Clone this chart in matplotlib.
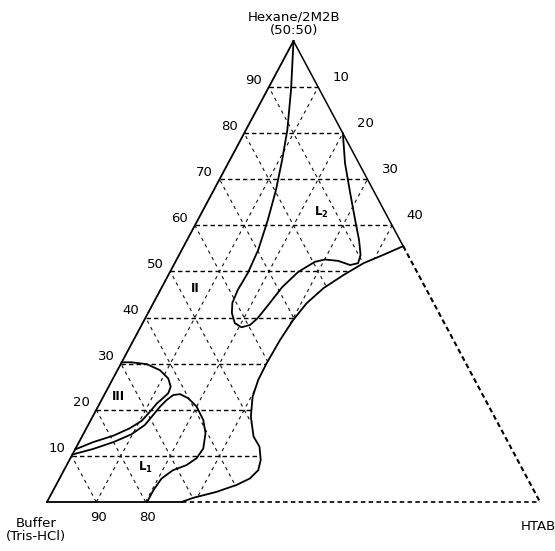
import numpy as np
import matplotlib
matplotlib.use('Agg')
import matplotlib.pyplot as plt
from matplotlib.patches import Polygon

plt.rcParams['font.family'] = ['DejaVu Sans']
plt.rcParams['lines.scale_dashes'] = False

# curves, as (HTAB %, Hexane/2M2B %)
# L2 / II boundary: from the hexane corner, loop, back to the right side
l2_htab = [0.0, 4.8, 8.4, 10.6, 12.6, 14.2, 15.5, 15.9, 15.7, 16.0, 17.0, 18.7, 20.5, 22.0,
           22.8, 23.5, 24.4, 26.0, 28.3, 30.1, 32.9, 35.8, 37.2, 36.8, 34.9, 31.9, 28.0,
           23.7, 21.2, 20.0]
l2_hex = [100.0, 89.4, 80.7, 74.2, 67.7, 61.2, 54.7, 49.7, 46.0, 43.2, 41.0, 38.8, 37.9, 38.4,
          39.9, 42.7, 46.6, 49.9, 52.1, 52.6, 52.3, 51.4, 51.8, 53.6, 56.8, 61.2, 67.0,
          73.5, 77.9, 80.0]

# outer boundary of the multiphase region
out_htab = [44.5, 41.4, 38.3, 35.5, 32.9, 31.1, 30.2, 29.7, 29.5, 29.6, 30.3, 32.1, 34.8,
            37.1, 38.8, 39.4, 38.6, 36.6, 33.3, 29.2, 27.3]
out_hex = [55.5, 53.6, 51.8, 49.2, 46.4, 43.1, 39.5, 35.1, 30.1, 26.5, 22.8, 18.5, 14.2,
           12.0, 9.1, 6.9, 5.1, 3.7, 2.2, 0.9, 0.0]

# L1 boundary
l1_htab = [0.0, 3.6, 7.0, 9.8, 11.5, 12.1, 12.6, 13.2, 14.0, 15.3, 17.4, 20.0, 22.8, 24.7,
           25.9, 25.6, 24.3, 22.1, 20.7, 20.3, 20.3]
l1_hex = [10.3, 11.5, 13.0, 14.7, 16.7, 18.9, 20.7, 22.1, 23.2, 23.4, 22.5, 20.7, 17.8, 14.9,
          11.6, 9.5, 8.0, 6.9, 5.1, 2.6, 0.0]

# III boundary
l3_htab = [0.0, 2.9, 6.3, 8.8, 10.4, 11.1, 11.6, 12.3, 12.8, 12.6, 11.2, 8.6, 5.3, 2.0, 0.0]
l3_hex = [11.4, 13.0, 14.4, 16.0, 17.6, 19.6, 21.4, 22.6, 23.6, 25.0, 26.8, 28.6, 29.9, 30.3,
          30.3]

ticks = [10, 20, 30, 40, 50, 60, 70, 80, 90]
right_ticks = [10, 20, 30, 40]
bottom_ticks = [90, 80]

regions = ['II', 'III', r'$\mathbf{L_1}$', r'$\mathbf{L_2}$']
region_htab = [6.8, 3.0, 16.2, 24.2]
region_hex = [46.4, 22.8, 7.4, 62.7]


def tern(htab, hexane):
    t = np.asarray(htab, dtype=float) / 100
    h = np.asarray(hexane, dtype=float) / 100
    return t + 0.5 * h, h


fig = plt.figure(figsize=(5.55, 5.51), dpi=100)
ax = fig.add_axes([0, 0, 1, 1])
ax.set_xlim(-0.0953, 1.0304)
ax.set_ylim(-0.1063, 1.0889)
ax.axis('off')

# region where the grid is drawn (left of the outer boundary)
cx, cy = tern([0, 0] + out_htab, [0, 100] + out_hex)
clip = Polygon(np.column_stack([cx, cy]), closed=True, transform=ax.transData,
               facecolor='none', edgecolor='none')
ax.add_patch(clip)

# dashed grid
for k in ticks:
    x, y = tern([0, 100 - k], [k, k])
    ln, = ax.plot(x, y, color='black', lw=1.0, dashes=(3.2, 2.2))
    ln.set_clip_path(clip)
    x, y = tern([k, k], [0, 100 - k])
    ln, = ax.plot(x, y, color='#111111', lw=0.8, dashes=(2.4, 2.8))
    ln.set_clip_path(clip)
    x, y = tern([100 - k, 0], [0, 100 - k])
    ln, = ax.plot(x, y, color='#111111', lw=0.8, dashes=(2.4, 2.8))
    ln.set_clip_path(clip)

# triangle edges
x, y = tern([0, 0], [0, 100])
ax.plot(x, y, color='black', lw=1.3)
x, y = tern([0, out_htab[0]], [100, out_hex[0]])
ax.plot(x, y, color='black', lw=1.1)
x, y = tern([out_htab[0], 100], [out_hex[0], 0])
ax.plot(x, y, color='black', lw=1.5, dashes=(3.6, 2.4))
x, y = tern([0, out_htab[-1]], [0, 0])
ax.plot(x, y, color='black', lw=1.3)
x, y = tern([out_htab[-1], 100], [0, 0])
ax.plot(x, y, color='black', lw=1.2, dashes=(3.2, 2.4))

# phase boundaries
for ht, hx in [(l2_htab, l2_hex), (out_htab, out_hex), (l1_htab, l1_hex), (l3_htab, l3_hex)]:
    x, y = tern(ht, hx)
    ax.plot(x, y, color='black', lw=1.3, solid_joinstyle='round')

# tick labels
for k in ticks:
    x, y = tern(0, k)
    ax.annotate(str(k), (x, y), xytext=(-15, 7), textcoords='offset pixels',
                ha='center', va='center', fontsize=9.5)
for k in right_ticks:
    x, y = tern(k, 100 - k)
    ax.annotate(str(k), (x, y), xytext=(23, 10), textcoords='offset pixels',
                ha='center', va='center', fontsize=9.5)
for k in bottom_ticks:
    x, y = tern(100 - k, 0)
    ax.annotate(str(k), (x, y), xytext=(2, -16), textcoords='offset pixels',
                ha='center', va='center', fontsize=9.5)

# corner labels
x, y = tern(0, 100)
ax.annotate('Hexane/2M2B\n(50:50)', (x, y), xytext=(1, 17), textcoords='offset pixels',
            ha='center', va='center', fontsize=9.5, linespacing=1.05)
x, y = tern(0, 0)
ax.annotate('Buffer\n(Tris-HCl)', (x, y), xytext=(-11, -28), textcoords='offset pixels',
            ha='center', va='center', fontsize=9.5, linespacing=1.05)
x, y = tern(100, 0)
ax.annotate('HTAB', (x, y), xytext=(-2, -25), textcoords='offset pixels',
            ha='center', va='center', fontsize=9.5)

# region names
for name, ht, hx in zip(regions, region_htab, region_hex):
    x, y = tern(ht, hx)
    ax.text(x, y, name, ha='center', va='center', fontsize=8.5, fontweight='bold')

fig.savefig('out.png', dpi=100)
